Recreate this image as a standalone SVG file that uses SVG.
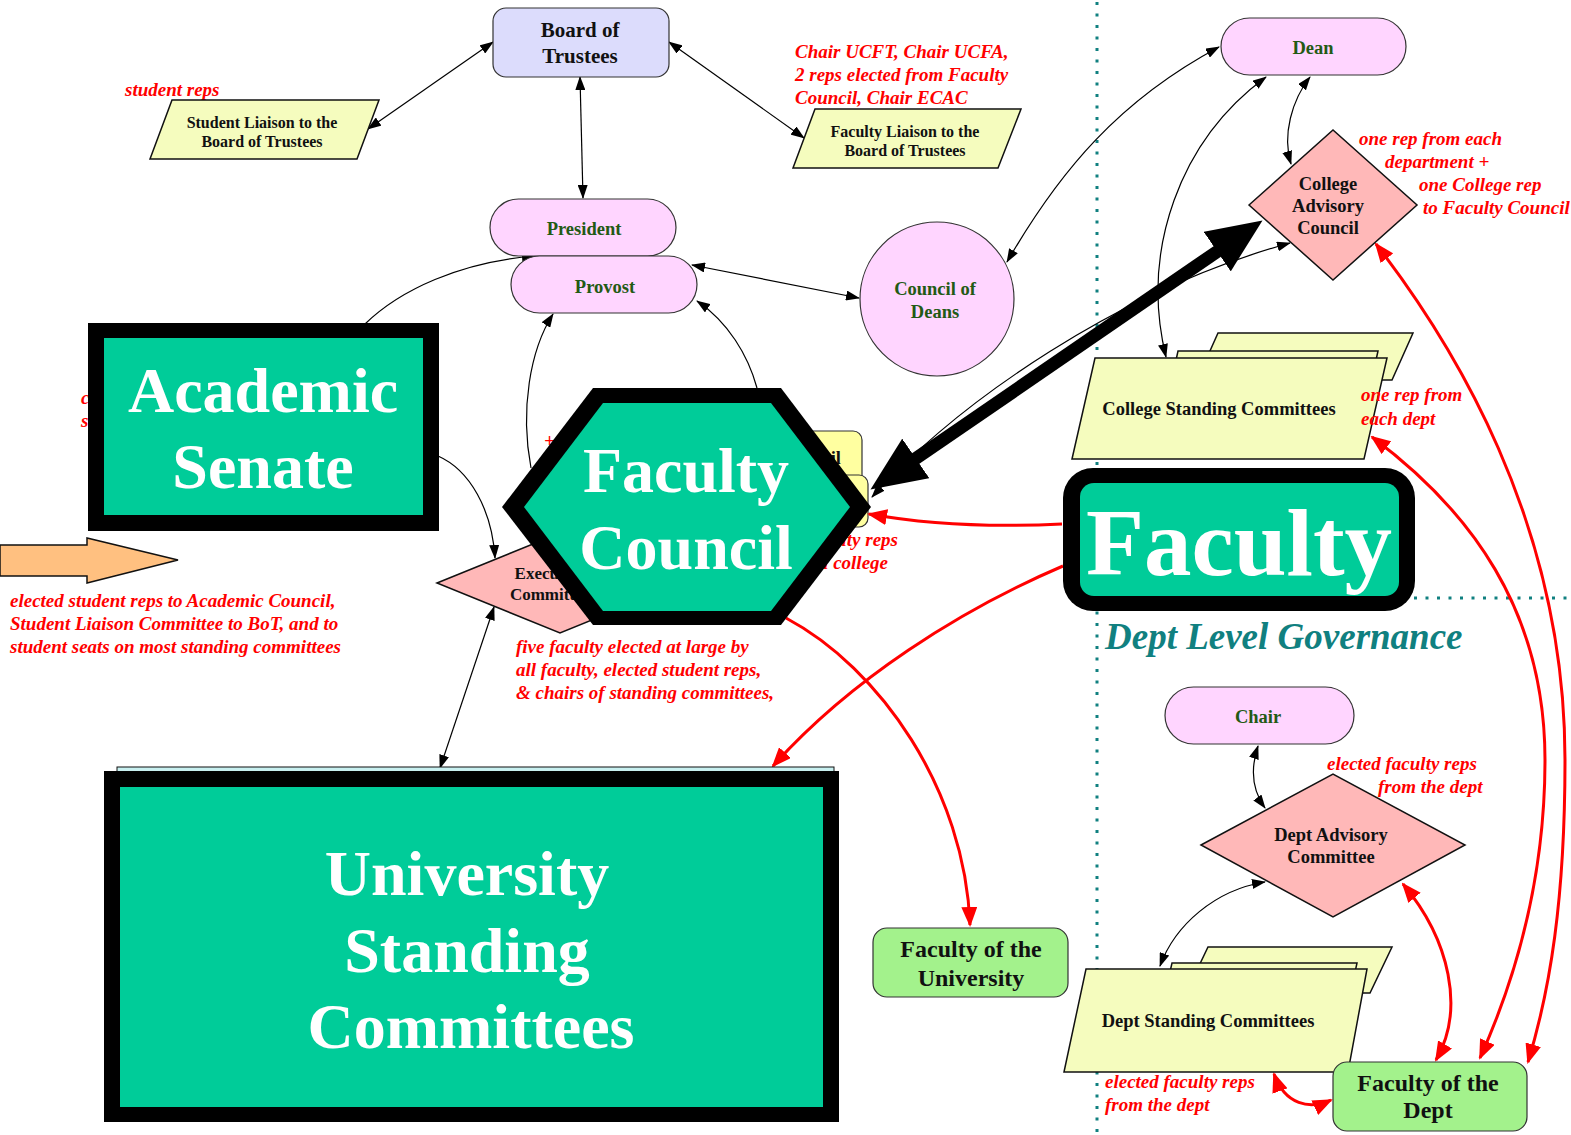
<svg xmlns="http://www.w3.org/2000/svg" width="1571" height="1135" viewBox="0 0 1571 1135">
<style>
text{font-family:"Liberation Serif","Times New Roman",serif;font-weight:bold}
.nt{font-size:18.5px;fill:#111;text-anchor:middle}
.gt{font-size:18.5px;fill:#235a14;text-anchor:middle}
.red{font-size:19px;fill:#ff0000;font-style:italic}
.big{font-size:64px;fill:#fff;text-anchor:middle}
.stad{fill:#ffd5ff;stroke:#333;stroke-width:1.2}
.para{fill:#f5fcbe;stroke:#111;stroke-width:1.5}
.dia{fill:#ffb8b8;stroke:#111;stroke-width:1.5}
.lg{fill:#a3f28c;stroke:#333;stroke-width:1.2}
.blk{stroke:#000;stroke-width:1.2;fill:none}
.rd{stroke:#ff0000;stroke-width:3;fill:none}
.dot{stroke:#108080;stroke-width:3;stroke-dasharray:3 8.5;fill:none}
</style>
<defs>
<marker id="ab" markerUnits="userSpaceOnUse" viewBox="0 0 14 10" markerWidth="14" markerHeight="10" refX="13" refY="5" orient="auto-start-reverse"><path d="M0,0 L14,5 L0,10 z" fill="#000"/></marker>
<marker id="ar" markerUnits="userSpaceOnUse" viewBox="0 0 20 16" markerWidth="20" markerHeight="16" refX="18" refY="8" orient="auto-start-reverse"><path d="M0,0 L20,8 L0,16 z" fill="#ff0000"/></marker>
<marker id="at" markerUnits="userSpaceOnUse" viewBox="0 0 55 48" markerWidth="55" markerHeight="48" refX="1" refY="24" orient="auto-start-reverse"><path d="M0,0 L55,24 L0,48 z" fill="#000"/></marker>
</defs>
<rect width="1571" height="1135" fill="#fff"/>

<!-- dotted separators -->
<g id="separators">
<line class="dot" x1="1097" y1="2" x2="1097" y2="1135"/>
<line class="dot" x1="1414" y1="598" x2="1571" y2="598"/>
</g>

<!-- background nodes (partly hidden) -->
<g id="academic-council">
<rect x="700" y="431" width="162" height="60" rx="9" fill="#ffffa0" stroke="#333" stroke-width="1.2"/>
<rect x="706" y="475" width="162" height="52" rx="9" fill="#ffffa0" stroke="#333" stroke-width="1.2"/>
<text class="nt" x="841" y="464" style="text-anchor:end">cil</text>
</g>
<g id="executive-committee">
<polygon class="dia" points="437,583 560,533 683,583 560,633"/>
<text class="nt" x="550" y="579" style="font-size:17px">Executive</text>
<text class="nt" x="550" y="600" style="font-size:17px">Committee</text>
</g>
<g id="hidden-labels">
<text class="red" x="81" y="404">c</text>
<text class="red" x="81" y="427">s</text>
<text class="red" x="544" y="447">+</text>
<text class="red" x="898" y="546" text-anchor="end">faculty reps</text>
<text class="red" x="888" y="569" text-anchor="end">each college</text>
</g>

<g id="connectors">
<line class="blk" x1="493" y1="42" x2="368" y2="129" marker-start="url(#ab)" marker-end="url(#ab)"/>
<line class="blk" x1="669" y1="42" x2="804" y2="138" marker-start="url(#ab)" marker-end="url(#ab)"/>
<line class="blk" x1="580" y1="77" x2="583" y2="198" marker-start="url(#ab)" marker-end="url(#ab)"/>
<line class="blk" x1="692" y1="265" x2="859" y2="298" marker-start="url(#ab)" marker-end="url(#ab)"/>
<path class="blk" d="M1007,262 C1060,170 1120,100 1219,47" marker-start="url(#ab)" marker-end="url(#ab)"/>
<path class="blk" d="M1266,77 C1180,140 1140,250 1166,357" marker-start="url(#ab)" marker-end="url(#ab)"/>
<path class="blk" d="M1310,77 C1292,100 1282,135 1291,164" marker-start="url(#ab)" marker-end="url(#ab)"/>
<path class="blk" d="M872,497 C960,400 1120,290 1290,243" marker-start="url(#ab)" marker-end="url(#ab)"/>
<line x1="915" y1="459" x2="1218" y2="251" stroke="#000" stroke-width="13" marker-start="url(#at)" marker-end="url(#at)"/>
<path class="blk" d="M365,324 C400,290 460,262 535,256" marker-end="url(#ab)"/>
<path class="blk" d="M438,456 C470,470 492,510 495,558" marker-end="url(#ab)"/>
<path class="blk" d="M531,468 C520,410 530,350 553,314" marker-end="url(#ab)"/>
<path class="blk" d="M757,388 C748,355 728,322 697,301" marker-end="url(#ab)"/>
<line class="blk" x1="494" y1="607" x2="440" y2="768" marker-start="url(#ab)" marker-end="url(#ab)"/>
<path class="blk" d="M1258,746 C1250,770 1252,790 1265,808" marker-start="url(#ab)" marker-end="url(#ab)"/>
<path class="blk" d="M1265,882 C1215,890 1175,925 1160,966" marker-start="url(#ab)" marker-end="url(#ab)"/>
<path class="rd" d="M1062,524 C1000,527 930,525 869,514" marker-end="url(#ar)"/>
<path class="rd" d="M1063,566 C960,610 850,680 773,766" marker-end="url(#ar)"/>
<path class="rd" d="M786,618 C880,668 965,790 970,925" marker-end="url(#ar)"/>
<path class="rd" d="M1372,437 C1470,510 1545,610 1545,760 C1545,880 1515,980 1480,1058" marker-start="url(#ar)" marker-end="url(#ar)"/>
<path class="rd" d="M1376,244 C1450,340 1565,520 1565,760 C1565,900 1550,990 1528,1062" marker-start="url(#ar)" marker-end="url(#ar)"/>
<path class="rd" d="M1403,884 C1450,940 1465,1010 1436,1060" marker-start="url(#ar)" marker-end="url(#ar)"/>
<path class="rd" d="M1274,1074 C1285,1105 1310,1110 1331,1100" marker-start="url(#ar)" marker-end="url(#ar)"/>
</g>

<g id="board-of-trustees">
<rect x="493" y="8" width="176" height="69" rx="13" fill="#dcdcfc" stroke="#333" stroke-width="1.2"/>
<text class="nt" x="580" y="37" style="font-size:21px">Board of</text>
<text class="nt" x="580" y="63" style="font-size:21px">Trustees</text>
</g>
<g id="student-liaison">
<text class="red" x="125" y="96">student reps</text>
<polygon class="para" points="150,159 172,100 379,100 357,159"/>
<text class="nt" x="262" y="128" style="font-size:16px">Student Liaison to the</text>
<text class="nt" x="262" y="147" style="font-size:16px">Board of Trustees</text>
</g>
<g id="faculty-liaison">
<text class="red" x="795" y="58">Chair UCFT, Chair UCFA,</text>
<text class="red" x="795" y="81">2 reps elected from Faculty</text>
<text class="red" x="795" y="104">Council, Chair ECAC</text>
<polygon class="para" points="793,168 815,109 1021,109 998,168"/>
<text class="nt" x="905" y="137" style="font-size:16px">Faculty Liaison to the</text>
<text class="nt" x="905" y="156" style="font-size:16px">Board of Trustees</text>
</g>
<g id="president">
<rect class="stad" x="490" y="199" width="186" height="57" rx="28.5"/>
<text class="gt" x="584" y="235">President</text>
</g>
<g id="provost">
<rect class="stad" x="511" y="256" width="186" height="57" rx="28.5"/>
<text class="gt" x="605" y="293">Provost</text>
</g>
<g id="council-of-deans">
<ellipse class="stad" cx="937" cy="299" rx="77" ry="77"/>
<text class="gt" x="935" y="295">Council of</text>
<text class="gt" x="935" y="318">Deans</text>
</g>
<g id="dean">
<rect class="stad" x="1221" y="18" width="185" height="57" rx="28.5"/>
<text class="gt" x="1313" y="54">Dean</text>
</g>
<g id="college-advisory-council">
<polygon class="dia" points="1249,205 1333,130 1417,205 1333,280"/>
<text class="nt" x="1328" y="190">College</text>
<text class="nt" x="1328" y="212">Advisory</text>
<text class="nt" x="1328" y="234">Council</text>
<text class="red" x="1359" y="145">one rep from each</text>
<text class="red" x="1385" y="168">department +</text>
<text class="red" x="1419" y="191">one College rep</text>
<text class="red" x="1423" y="214">to Faculty Council</text>
</g>
<g id="college-standing-committees">
<polygon class="para" points="1197,380 1218,333 1413,333 1392,380"/>
<polygon class="para" points="1156,452 1178,351 1378,351 1356,452"/>
<polygon class="para" points="1072,459 1095,358 1387,358 1364,459"/>
<text class="nt" x="1219" y="415">College Standing Committees</text>
<text class="red" x="1361" y="401">one rep from</text>
<text class="red" x="1361" y="425">each dept</text>
</g>
<g id="academic-senate">
<rect x="88" y="323" width="351" height="208" fill="#000"/>
<rect x="104" y="338" width="319" height="177" fill="#00cc99"/>
<text class="big" x="263" y="412">Academic</text>
<text class="big" x="263" y="488">Senate</text>
</g>
<g id="students">
<polygon points="0,545 87,545 87,538 178,560 87,583 87,576 0,576" fill="#ffc080" stroke="#111" stroke-width="1.5"/>
<text class="red" x="10" y="607">elected student reps to Academic Council,</text>
<text class="red" x="10" y="630">Student Liaison Committee to BoT, and to</text>
<text class="red" x="10" y="653">student seats on most standing committees</text>
</g>
<g id="faculty-council">
<polygon points="502,507 593,388 781,388 871,507 781,625 593,625" fill="#000"/>
<polygon points="524,507 603,403 771,403 850,507 771,611 603,611" fill="#00cc99"/>
<text class="big" x="686" y="492">Faculty</text>
<text class="big" x="686" y="569">Council</text>
</g>
<g id="exec-label">
<text class="red" x="516" y="653">five faculty elected at large by</text>
<text class="red" x="516" y="676">all faculty, elected student reps,</text>
<text class="red" x="516" y="699">&amp; chairs of standing committees,</text>
</g>
<g id="faculty">
<rect x="1063" y="468" width="352" height="143" rx="30" fill="#000"/>
<rect x="1080" y="483" width="319" height="113" rx="14" fill="#00cc99"/>
<text class="big" x="1239" y="575" style="font-size:95px">Faculty</text>
</g>
<g id="dept-level-title">
<text x="1105" y="649" style="font-size:37px;font-style:italic;fill:#108080">Dept Level Governance</text>
</g>
<g id="university-standing-committees">
<rect x="117" y="767" width="717" height="6" fill="#c8f0f0" stroke="#111" stroke-width="1"/>
<rect x="104" y="771" width="735" height="351" fill="#000"/>
<rect x="120" y="787" width="703" height="320" fill="#00cc99"/>
<text class="big" x="467" y="895">University</text>
<text class="big" x="467" y="972">Standing</text>
<text class="big" x="471" y="1048">Committees</text>
</g>
<g id="faculty-of-the-university">
<rect class="lg" x="873" y="928" width="195" height="69" rx="14"/>
<text class="nt" x="971" y="957" style="font-size:24px">Faculty of the</text>
<text class="nt" x="971" y="986" style="font-size:24px">University</text>
</g>
<g id="chair">
<rect class="stad" x="1165" y="687" width="189" height="57" rx="28.5"/>
<text class="gt" x="1258" y="723">Chair</text>
</g>
<g id="dept-advisory-committee">
<polygon class="dia" points="1201,845 1333,774 1465,845 1333,917"/>
<text class="nt" x="1331" y="841">Dept Advisory</text>
<text class="nt" x="1331" y="863">Committee</text>
<text class="red" x="1327" y="770">elected faculty reps</text>
<text class="red" x="1378" y="793">from the dept</text>
</g>
<g id="dept-standing-committees">
<polygon class="para" points="1186,993 1208,947 1392,947 1370,993"/>
<polygon class="para" points="1150,1060 1172,963 1357,963 1336,1060"/>
<polygon class="para" points="1064,1072 1086,969 1367,969 1348,1072"/>
<text class="nt" x="1208" y="1027">Dept Standing Committees</text>
<text class="red" x="1105" y="1088">elected faculty reps</text>
<text class="red" x="1105" y="1111">from the dept</text>
</g>
<g id="faculty-of-the-dept">
<rect class="lg" x="1333" y="1062" width="194" height="69" rx="14"/>
<text class="nt" x="1428" y="1091" style="font-size:24px">Faculty of the</text>
<text class="nt" x="1428" y="1118" style="font-size:24px">Dept</text>
</g>
</svg>
